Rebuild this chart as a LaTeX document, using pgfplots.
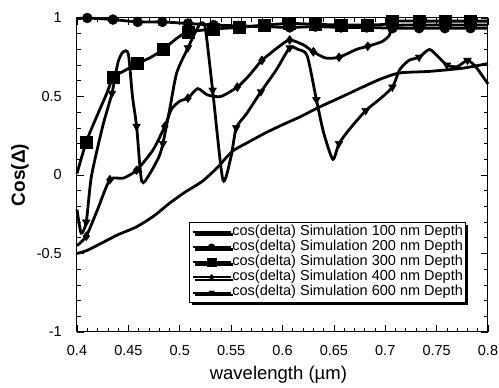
\documentclass[border=0pt]{standalone}
\usepackage{fontspec}
\setmainfont{Liberation Sans}
\usepackage{pgfplots}
\pgfplotsset{compat=1.18}
\usetikzlibrary{shadows}
\begin{document}
\begin{tikzpicture}
\begin{axis}[
  scale only axis, width=411pt, height=314pt,
  xmin=0.4, xmax=0.8, ymin=-1, ymax=1,
  clip=false,
  xtick={0.4,0.45,0.5,0.55,0.6,0.65,0.7,0.75,0.8},
  ytick={-1,-0.5,0,0.5,1},
  minor x tick num=4, minor y tick num=4,
  tick align=inside, tick pos=both,
  major tick length=7pt, minor tick length=4pt,
  every tick/.style={line width=0.6pt, black},
  axis line style={line width=1pt},
  /pgf/number format/assume math mode=true,
  tick label style={font=\fontsize{14.5}{16}\selectfont, inner sep=0pt},
  xticklabel style={anchor=north, yshift=-13pt},
  yticklabel style={anchor=east, xshift=-15pt},
  xlabel={wavelength (µm)},
  xlabel style={font=\fontsize{18.5}{20}\selectfont, at={(axis description cs:0.49,0)}, anchor=base, yshift=-48pt},
  ylabel={\textbf{Cos(Δ)}},
  ylabel style={font=\fontsize{19}{20}\selectfont, at={(axis description cs:-0.139,0.5)}, anchor=center},
  legend style={at={(axis description cs:0.947,0.35)}, anchor=north east,
    font=\fontsize{14.5}{14.5}\selectfont, draw=black, line width=1pt, fill=white,
    drop shadow={shadow xshift=2.5pt, shadow yshift=-2.5pt, fill=black, opacity=1},
    inner sep=2pt, row sep=0pt,
    nodes={inner sep=0.8pt, text height=10pt, text depth=3.5pt}},
  legend cell align=left,
  legend image code/.code={\draw[#1, line width=2pt, mark indices={2}, every mark/.append style={scale=0.7}] plot coordinates {(0pt,0pt) (19pt,0pt) (38pt,0pt)};},
  every axis plot/.append style={line width=2.8pt, black, smooth, tension=0.4},
]
% 100 nm
\addplot[no marks] coordinates {
(0.400,-0.50) (0.410,-0.48) (0.425,-0.43) (0.440,-0.38) (0.458,-0.33) (0.475,-0.26) (0.490,-0.18) (0.505,-0.11) (0.522,-0.04) (0.537,0.05) (0.551,0.15) (0.567,0.21) (0.584,0.27) (0.600,0.32) (0.617,0.37) (0.635,0.43) (0.655,0.49) (0.678,0.56) (0.695,0.61) (0.714,0.65) (0.743,0.66) (0.775,0.68) (0.800,0.71)
};
\addlegendentry{cos(delta) Simulation 100 nm Depth}
% 200 nm
\addplot[mark=*, mark size=5pt, mark options={solid, line width=0.4pt, fill=black},
  mark indices={2,3,4,5,6,7,8,9,10,11,12,13,14,15,16,17}] coordinates {
(0.400,0.995) (0.410,1.00) (0.435,0.99) (0.459,0.975) (0.483,0.975) (0.508,0.965) (0.533,0.955) (0.557,0.95) (0.581,0.945) (0.607,0.94) (0.632,0.945) (0.657,0.94) (0.682,0.94) (0.707,0.935) (0.733,0.935) (0.758,0.935) (0.783,0.935) (0.800,0.935)
};
\addlegendentry{cos(delta) Simulation 200 nm Depth}
% 300 nm
\addplot[mark=square*, mark size=6pt, mark options={solid, line width=0.4pt, fill=black},
  mark indices={2,5,7,9,11,12,13,14,15,16,17,18,20,21,22,23}] coordinates {
(0.400,0.01) (0.409,0.21) (0.419,0.37) (0.429,0.52) (0.435,0.62) (0.445,0.66) (0.459,0.71) (0.472,0.75) (0.484,0.80) (0.497,0.87) (0.508,0.91) (0.533,0.93) (0.558,0.94) (0.582,0.955) (0.607,0.965) (0.632,0.96) (0.657,0.955) (0.682,0.955) (0.700,0.96) (0.707,0.98) (0.733,0.98) (0.758,0.98) (0.783,0.98) (0.800,0.98)
};
\addlegendentry{cos(delta) Simulation 300 nm Depth}
% 400 nm
\addplot[mark=diamond*, mark size=4.5pt, mark options={solid, line width=0.4pt, fill=black},
  mark indices={2,4,6,8,11,15,17,19,21,23,25,28,29,30,31}] coordinates {
(0.400,-0.45) (0.409,-0.39) (0.420,-0.22) (0.432,-0.03) (0.445,-0.02) (0.458,0.03) (0.474,0.16) (0.4855,0.31) (0.492,0.42) (0.500,0.47) (0.508,0.49) (0.5175,0.55) (0.527,0.51) (0.540,0.50) (0.556,0.56) (0.567,0.63) (0.580,0.73) (0.597,0.82) (0.607,0.86) (0.620,0.83) (0.630,0.785) (0.642,0.745) (0.655,0.75) (0.672,0.80) (0.683,0.82) (0.697,0.85) (0.704,0.89) (0.708,0.95) (0.733,0.955) (0.758,0.955) (0.783,0.955) (0.800,0.955)
};
\addlegendentry{cos(delta) Simulation 400 nm Depth}
% 600 nm
\addplot[mark=triangle*, mark size=4.5pt, mark options={solid, line width=0.4pt, fill=black, rotate=180},
  mark indices={3,6,11,15,18,22,25,27,29,32,35,37,39,42,45,47}] coordinates {
(0.400,-0.22) (0.404,-0.37) (0.409,-0.30) (0.414,-0.01) (0.425,0.31) (0.434,0.52) (0.440,0.72) (0.445,0.785) (0.450,0.77) (0.454,0.50) (0.458,0.31) (0.463,-0.04) (0.471,0.01) (0.480,0.12) (0.4836,0.20) (0.490,0.41) (0.497,0.65) (0.508,0.81) (0.516,0.92) (0.521,0.97) (0.525,0.93) (0.532,0.54) (0.542,-0.03) (0.550,0.12) (0.555,0.30) (0.565,0.39) (0.579,0.53) (0.594,0.67) (0.607,0.81) (0.615,0.80) (0.624,0.76) (0.633,0.48) (0.640,0.27) (0.649,0.10) (0.655,0.20) (0.665,0.29) (0.681,0.41) (0.694,0.48) (0.707,0.56) (0.714,0.67) (0.723,0.73) (0.733,0.75) (0.743,0.80) (0.752,0.75) (0.760,0.70) (0.770,0.69) (0.780,0.73) (0.788,0.69) (0.800,0.58)
};
\addlegendentry{cos(delta) Simulation 600 nm Depth}
\end{axis}
\pgfresetboundingbox
\useasboundingbox (-77pt,-56pt) rectangle (422pt,332pt);
\end{tikzpicture}
\end{document}
